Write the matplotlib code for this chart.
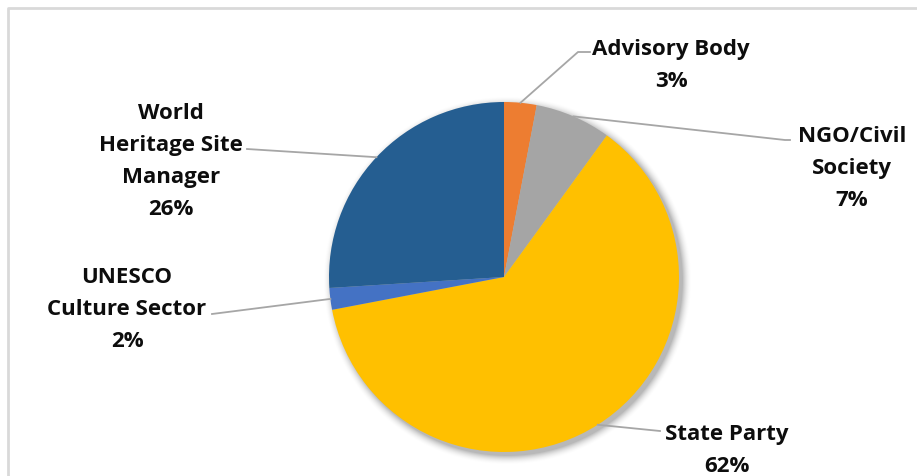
import numpy as np
import matplotlib.pyplot as plt

# Share of responses by stakeholder group (%)
groups = ["Advisory Body", "NGO/Civil\nSociety", "State Party",
          "UNESCO\nCulture Sector", "World\nHeritage Site\nManager"]
shares = [3, 7, 62, 2, 26]
colors = ["#ED7D31", "#A5A5A5", "#FFC000", "#4472C4", "#255E91"]

W, H = 917, 477
CX, CY, R = 504, H - 278, 175
LINE = 32  # px between label baselines

# label centre x and first baseline (pixel coords from top), leader bends/ends
label_pos = [(671, 55), (852, 142), (727, 440), (127, 283), (171, 119)]
leader_pts = [
    [(578, 53), (590, 53)],
    [(785, 141), (790, 141)],
    [(660, 432)],
    [(212, 315)],
    [(247, 150)],
]

plt.rcParams['font.family'] = ['Open Sans', 'DejaVu Sans']

fig = plt.figure(figsize=(W / 100, H / 100), dpi=100)
ax = fig.add_axes([0, 0, 1, 1])

# outer frame (top and left edges visible)
ax.plot([8, 8, W], [0, H - 9, H - 9], color="#D9D9D9", lw=2, zorder=0)

# soft drop shadow under the pie
yy, xx = np.mgrid[0:H, 0:W]
d = np.hypot(xx - (CX + 3), (H - yy) - (CY - 3)) - R
shadow = np.clip(1 - d / 10, 0, 1) ** 2 * 0.28
img = np.zeros((H, W, 4))
img[..., 3] = shadow
ax.imshow(img, extent=(0, W, 0, H), origin='upper', zorder=1)

wedges, _ = ax.pie(shares, colors=colors, startangle=90, counterclock=False,
                   center=(CX, CY), radius=R, frame=True,
                   wedgeprops=dict(linewidth=0, zorder=2))
ax.set_xlim(0, W)
ax.set_ylim(0, H)
ax.set_aspect('equal')
ax.axis('off')

for w, name, val, (lx, ly), pts in zip(wedges, groups, shares, label_pos, leader_pts):
    mid = np.deg2rad((w.theta1 + w.theta2) / 2)
    sx, sy = CX + R * np.cos(mid), CY + R * np.sin(mid)
    xs = [sx] + [p[0] for p in pts]
    ys = [sy] + [H - p[1] for p in pts]
    ax.plot(xs, ys, color="#A6A6A6", lw=1.3, zorder=3)
    lines = name.split("\n") + [f"{val}%"]
    for i, s in enumerate(lines):
        ax.text(lx, H - (ly + i * LINE), s, ha='center', va='baseline',
                fontsize=16, fontweight='bold', color="#0D0D0D", zorder=4)

fig.savefig("out.png", dpi=100)
